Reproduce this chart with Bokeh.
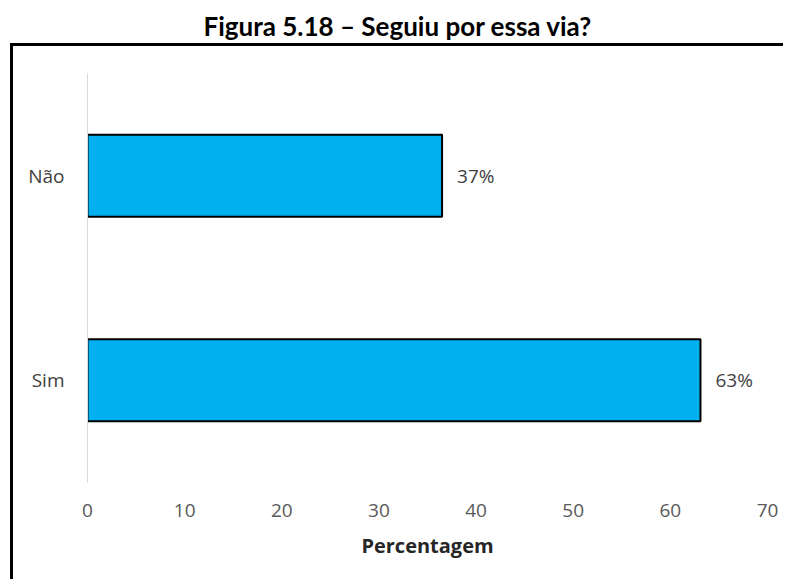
from bokeh.plotting import figure
from bokeh.models import Range1d, ColumnDataSource, FixedTicker, Title
from bokeh.core.properties import value
from bokeh.embed import file_html
from bokeh.resources import INLINE

categories = ["Sim", "Não"]
values = [63.1, 36.5]
labels = ["63%", "37%"]
x_ticks = [0, 10, 20, 30, 40, 50, 60, 70]
title_text = "Figura 5.18 – Seguiu por essa via?"
x_title = "Percentagem"

src = ColumnDataSource(dict(cat=categories, val=values, lab=labels))

p = figure(width=783, height=579, y_range=categories, x_range=Range1d(0, 70),
           output_backend="svg", toolbar_location=None,
           min_border_left=87, min_border_right=16, min_border_top=73, min_border_bottom=97)

p.border_fill_color = None
p.background_fill_color = "white"
p.styles = {
    "background-image": "linear-gradient(#000, #000), linear-gradient(#000, #000)",
    "background-size": "3px 100%, 100% 3px",
    "background-position": "10px 43px, 10px 43px",
    "background-repeat": "no-repeat",
}

p.hbar(y="cat", right="val", left=0, height=0.4, source=src,
       fill_color="#00b0f0", line_color="black", line_width=2)

p.text(x="val", y="cat", text="lab", source=src, x_offset=15,
       text_align="left", text_baseline="middle",
       text_font=value("Open Sans"), text_font_size="19px", text_color="#404040")

p.title.text = title_text
p.title.align = "left"
p.title.vertical_align = "top"
p.title.offset = 116
p.title.text_font = "Lato"
p.title.text_font_style = "bold"
p.title.text_font_size = "26px"
p.title.text_color = "black"
p.title.standoff = 0

spacer = Title(text=" ", text_font_size="2px", standoff=26)
p.add_layout(spacer, "above")

p.xgrid.grid_line_color = None
p.ygrid.grid_line_color = None
p.outline_line_color = None

p.xaxis.ticker = FixedTicker(ticks=x_ticks)
p.xaxis.axis_line_color = None
p.xaxis.major_tick_line_color = None
p.xaxis.minor_tick_line_color = None
p.xaxis.major_label_text_font = "Open Sans"
p.xaxis.major_label_text_font_size = "19px"
p.xaxis.major_label_text_color = "#595959"
p.xaxis.major_label_standoff = 15
p.xaxis.axis_label = x_title
p.xaxis.axis_label_text_font = "Open Sans"
p.xaxis.axis_label_text_font_style = "bold"
p.xaxis.axis_label_text_font_size = "20px"
p.xaxis.axis_label_text_color = "#262626"
p.xaxis.axis_label_standoff = 12

p.yaxis.axis_line_color = "#d9d9d9"
p.yaxis.axis_line_width = 1
p.yaxis.major_tick_line_color = None
p.yaxis.minor_tick_line_color = None
p.yaxis.major_label_text_font = "Open Sans"
p.yaxis.major_label_text_font_size = "19px"
p.yaxis.major_label_text_color = "#404040"
p.yaxis.major_label_standoff = 17

open("out.html", "w").write(file_html(p, INLINE))
